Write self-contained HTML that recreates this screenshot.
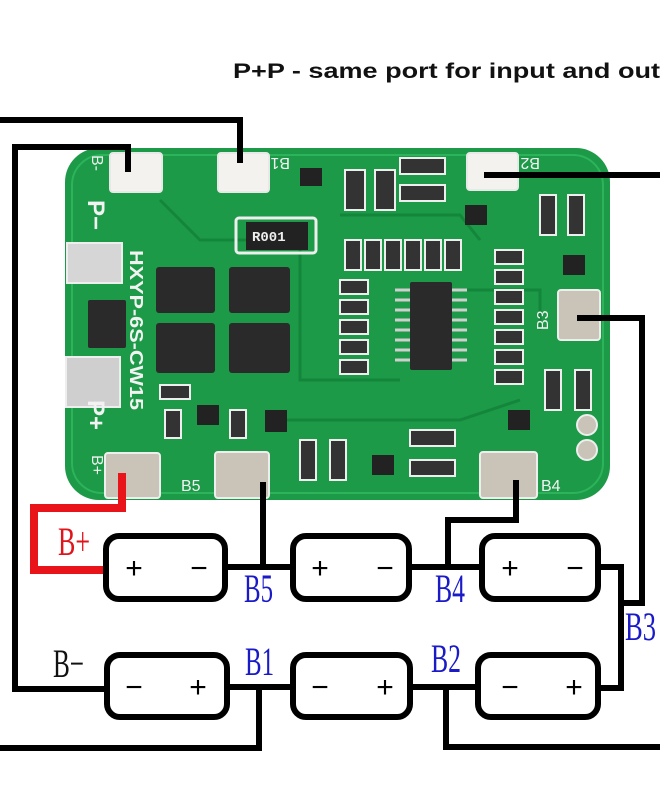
<!DOCTYPE html>
<html><head><meta charset="utf-8"><style>html,body{margin:0;padding:0;background:#fff}svg{display:block}</style></head>
<body>
<svg width="660" height="800" viewBox="0 0 660 800" xmlns="http://www.w3.org/2000/svg">
<rect width="660" height="800" fill="#fff"/>
<text x="233" y="78" font-family="Liberation Sans, sans-serif" font-weight="bold" font-size="21" textLength="427" lengthAdjust="spacingAndGlyphs" fill="#111">P+P - same port for input and out</text>

<!-- PCB -->
<rect x="65" y="148" width="545" height="352" rx="34" fill="#1c9a48"/>
<rect x="72" y="155" width="531" height="338" rx="30" fill="none" stroke="#2db35a" stroke-width="2"/>
<g stroke="#14863b" stroke-width="3" fill="none">
<path d="M160 200 L200 240 L300 240 L300 380 L400 380"/>
<path d="M340 215 L460 215 L480 240"/>
<path d="M460 290 L540 290 L540 330"/>
<path d="M280 420 L460 420 L520 400"/>
</g>
<g fill="#f4f2ee" stroke="#e8e8e8" stroke-width="2">
<rect x="110" y="153" width="52" height="39" rx="3"/>
<rect x="218" y="153" width="51" height="39" rx="3"/>
<rect x="467" y="153" width="51" height="37" rx="3"/>
</g>
<g fill="#c9c3b8" stroke="#eee" stroke-width="2">
<rect x="558" y="290" width="42" height="50" rx="3"/>
<rect x="105" y="453" width="55" height="45" rx="3"/>
<rect x="215" y="452" width="54" height="46" rx="3"/>
<rect x="480" y="452" width="57" height="46" rx="3"/>
<rect x="67" y="243" width="55" height="40" fill="#d6d6d6"/>
<rect x="66" y="357" width="54" height="50" fill="#cfcfcf"/>
<circle cx="587" cy="425" r="10"/>
<circle cx="587" cy="450" r="10"/>
</g>
<g fill="#2a2a2a">
<rect x="156" y="267" width="59" height="46" rx="3"/>
<rect x="229" y="267" width="61" height="46" rx="3"/>
<rect x="156" y="323" width="59" height="50" rx="3"/>
<rect x="229" y="323" width="61" height="50" rx="3"/>
<rect x="410" y="282" width="42" height="88" rx="2"/>
<rect x="88" y="300" width="38" height="48" rx="2"/>
<rect x="246" y="222" width="62" height="28" fill="#222"/>
</g>
<rect x="236" y="218" width="80" height="35" rx="3" fill="none" stroke="#eee" stroke-width="3"/>
<text x="252" y="241" font-family="Liberation Mono, monospace" font-size="14" font-weight="bold" fill="#eee">R001</text>
<g stroke="#cfcfcf" stroke-width="3">
<path d="M395 290 H410 M395 300 H410 M395 310 H410 M395 320 H410 M395 330 H410 M395 340 H410 M395 350 H410 M395 360 H410"/>
<path d="M452 290 H467 M452 300 H467 M452 310 H467 M452 320 H467 M452 330 H467 M452 340 H467 M452 350 H467 M452 360 H467"/>
</g>
<g fill="#333" stroke="#eee" stroke-width="2">
<rect x="345" y="170" width="20" height="40"/><rect x="375" y="170" width="20" height="40"/>
<rect x="400" y="158" width="45" height="16"/><rect x="400" y="185" width="45" height="16"/>
<rect x="540" y="195" width="16" height="40"/><rect x="568" y="195" width="16" height="40"/>
<rect x="545" y="370" width="16" height="40"/><rect x="575" y="370" width="16" height="40"/>
<rect x="300" y="440" width="16" height="40"/><rect x="330" y="440" width="16" height="40"/>
<rect x="410" y="430" width="45" height="16"/><rect x="410" y="460" width="45" height="16"/>
<rect x="345" y="240" width="16" height="30"/><rect x="365" y="240" width="16" height="30"/><rect x="385" y="240" width="16" height="30"/><rect x="405" y="240" width="16" height="30"/><rect x="425" y="240" width="16" height="30"/><rect x="445" y="240" width="16" height="30"/>
<rect x="340" y="280" width="28" height="14"/><rect x="340" y="300" width="28" height="14"/><rect x="340" y="320" width="28" height="14"/><rect x="340" y="340" width="28" height="14"/><rect x="340" y="360" width="28" height="14"/>
<rect x="495" y="250" width="28" height="14"/><rect x="495" y="270" width="28" height="14"/><rect x="495" y="290" width="28" height="14"/><rect x="495" y="310" width="28" height="14"/><rect x="495" y="330" width="28" height="14"/><rect x="495" y="350" width="28" height="14"/><rect x="495" y="370" width="28" height="14"/>
<rect x="160" y="385" width="30" height="14"/><rect x="165" y="410" width="16" height="28"/><rect x="230" y="410" width="16" height="28"/>
</g>
<g fill="#222">
<rect x="300" y="168" width="22" height="18"/><rect x="465" y="205" width="22" height="20"/><rect x="563" y="255" width="22" height="20"/>
<rect x="197" y="405" width="22" height="20"/><rect x="265" y="410" width="22" height="22"/><rect x="372" y="455" width="22" height="20"/><rect x="508" y="410" width="22" height="20"/>
</g>
<g font-family="Liberation Sans, sans-serif" font-size="16" fill="#f2f2f2">
<text transform="translate(130,250) rotate(90)" font-size="18" font-weight="bold" textLength="160" lengthAdjust="spacingAndGlyphs">HXYP-6S-CW15</text>
<text x="181" y="491">B5</text><text x="541" y="491">B4</text>
<text transform="translate(92,155) rotate(90)">B-</text>
<text transform="translate(88,200) rotate(90)" font-size="24" font-weight="bold">P−</text>
<text transform="translate(88,400) rotate(90)" font-size="24" font-weight="bold">P+</text>
<text transform="translate(92,455) rotate(90)">B+</text>
<text transform="translate(290,158) rotate(180)">B1</text>
<text transform="translate(540,158) rotate(180)">B2</text>
<text transform="translate(548,330) rotate(-90)">B3</text>
</g>

<!-- wires -->
<g stroke="#000" stroke-width="6" fill="none" stroke-linejoin="miter">
<path d="M0 120 H240 V163"/>
<path d="M128 172 V147 H15 V689 H104"/>
<path d="M484 175 H660"/>
<path d="M577 318 H642 V603 H621"/>
<path d="M263 482 V567"/>
<path d="M516 480 V520 H448 V567"/>
<path d="M225 567 H290 M412 567 H479 M601 567 H621 V688 H598"/>
<path d="M227 687 H290 M410 687 H475"/>
<path d="M259 687 V748 H0"/>
<path d="M446 687 V747 H660"/>
</g>
<path d="M122 473 V508 H34 V570 H103" stroke="#e8141a" stroke-width="8" fill="none"/>

<g fill="#fff" stroke="#000" stroke-width="6">
<rect x="106" y="536" width="119" height="63" rx="13"/>
<rect x="293" y="536" width="116" height="63" rx="13"/>
<rect x="482" y="536" width="116" height="63" rx="13"/>
<rect x="107" y="655" width="120" height="62" rx="13"/>
<rect x="293" y="655" width="117" height="62" rx="13"/>
<rect x="478" y="655" width="120" height="62" rx="13"/>
</g>
<g font-family="Liberation Sans, sans-serif" font-size="30" fill="#000" text-anchor="middle">
<text x="134" y="578">+</text><text x="199" y="578">−</text>
<text x="320" y="578">+</text><text x="385" y="578">−</text>
<text x="510" y="578">+</text><text x="575" y="578">−</text>
<text x="134" y="697">−</text><text x="198" y="697">+</text>
<text x="320" y="697">−</text><text x="385" y="697">+</text>
<text x="510" y="697">−</text><text x="574" y="697">+</text>
</g>
<g font-family="Liberation Serif, serif" font-size="40">
<text x="58" y="555" fill="#e0141a" textLength="32" lengthAdjust="spacingAndGlyphs">B+</text>
<text x="244" y="602" fill="#1a1ac8" textLength="29" lengthAdjust="spacingAndGlyphs">B5</text>
<text x="435" y="602" fill="#1a1ac8" textLength="30" lengthAdjust="spacingAndGlyphs">B4</text>
<text x="625" y="640" fill="#1a1ac8" textLength="31" lengthAdjust="spacingAndGlyphs">B3</text>
<text x="53" y="677" fill="#111" textLength="31" lengthAdjust="spacingAndGlyphs">B−</text>
<text x="245" y="675" fill="#1a1ac8" textLength="29" lengthAdjust="spacingAndGlyphs">B1</text>
<text x="431" y="672" fill="#1a1ac8" textLength="30" lengthAdjust="spacingAndGlyphs">B2</text>
</g>
</svg>
</body></html>
